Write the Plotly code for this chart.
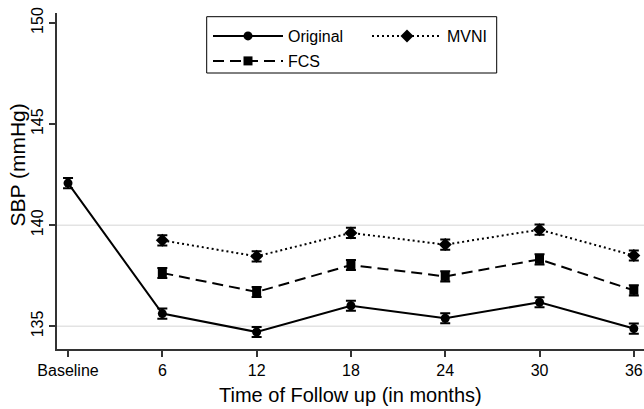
import plotly.graph_objects as go

# ---- data ----
tick_labels = ["Baseline", "6", "12", "18", "24", "30", "36"]
x_orig = [0, 1, 2, 3, 4, 5, 6]
x_imp = [1, 2, 3, 4, 5, 6]
original = [142.08, 135.63, 134.72, 136.02, 135.40, 136.19, 134.89]
original_err = [0.25, 0.25, 0.25, 0.25, 0.25, 0.25, 0.25]
fcs = [137.64, 136.70, 138.03, 137.47, 138.31, 136.78]
fcs_err = [0.25, 0.25, 0.25, 0.25, 0.25, 0.25]
mvni = [139.25, 138.46, 139.62, 139.04, 139.78, 138.50]
mvni_err = [0.25, 0.25, 0.25, 0.25, 0.25, 0.25]

FONT = "Liberation Sans, Arial, sans-serif"

# body margin is removed in the page (post_script), so figure fills the window
W, H = 644, 409
L, R, T, B = 57, 0, 13, 60
PW, PH = W - L - R, H - T - B


def fx(px):  # window pixel -> paper x
    return (px - L) / PW


def fy(py):  # window pixel -> paper y
    return (H - B - py) / PH


def eb(arr):
    return dict(type="data", array=arr, visible=True, color="black",
                thickness=2, width=5)


fig = go.Figure()
fig.add_trace(go.Scatter(
    x=x_orig, y=original, name="Original", mode="lines+markers",
    line=dict(color="black", width=2, dash="solid"),
    marker=dict(symbol="circle", size=9, color="black"),
    error_y=eb(original_err), legend="legend"))
fig.add_trace(go.Scatter(
    x=x_imp, y=mvni, name="MVNI", mode="lines+markers",
    line=dict(color="black", width=2, dash="2px,3px"),
    marker=dict(symbol="diamond", size=10, color="black"),
    error_y=eb(mvni_err), legend="legend2"))
fig.add_trace(go.Scatter(
    x=x_imp, y=fcs, name="FCS", mode="lines+markers",
    line=dict(color="black", width=2, dash="11px,6px"),
    marker=dict(symbol="square", size=9, color="black"),
    error_y=eb(fcs_err), legend="legend3"))

shapes = []
for g in [135, 140]:
    shapes.append(dict(type="line", xref="paper", yref="y", x0=0, x1=1,
                       y0=g, y1=g, line=dict(color="#e3e3e3", width=1.5),
                       layer="below"))
# legend frame
shapes.append(dict(type="rect", xref="paper", yref="paper",
                   x0=fx(206.7), x1=fx(496.7), y0=fy(73), y1=fy(16.7),
                   line=dict(color="black", width=1),
                   fillcolor="rgba(0,0,0,0)", layer="above"))

leg_common = dict(orientation="h", bgcolor="rgba(0,0,0,0)", borderwidth=0,
                  font=dict(family=FONT, size=16, color="black"),
                  itemwidth=70, xanchor="left", yanchor="top")

fig.update_layout(
    width=W, height=H,
    margin=dict(l=L, r=R, t=T, b=B, pad=0),
    paper_bgcolor="white", plot_bgcolor="white",
    font=dict(family=FONT, size=16, color="black"),
    shapes=shapes,
    showlegend=True,
    legend=dict(x=fx(208), y=fy(19), **leg_common),
    legend2=dict(x=fx(367), y=fy(19), **leg_common),
    legend3=dict(x=fx(208), y=fy(44), **leg_common),
    xaxis=dict(range=[-0.117, 6.108], tickmode="array", tickvals=x_orig,
               ticktext=tick_labels, showline=True, linecolor="#333333",
               linewidth=1.5, ticks="outside", ticklen=6, tickwidth=1.5,
               tickcolor="#333333", showgrid=False, zeroline=False,
               ticklabeloverflow="allow",
               tickfont=dict(family=FONT, size=16, color="black")),
    yaxis=dict(range=[133.88, 150.49], tickmode="array",
               tickvals=[135, 140, 145, 150], showline=True,
               linecolor="#333333", linewidth=1.5, ticks="outside",
               ticklen=6, tickwidth=1.5, tickcolor="#333333",
               showgrid=False, zeroline=False, tickangle=-90,
               ticklabeloverflow="allow",
               tickfont=dict(family=FONT, size=16, color="black")),
    annotations=[
        dict(text="Time of Follow up (in months)", xref="paper", yref="paper",
             x=0.5, y=fy(395), xanchor="center", yanchor="middle",
             showarrow=False, font=dict(family=FONT, size=20, color="black")),
        dict(text="SBP (mmHg)", xref="paper", yref="paper",
             x=fx(17.5), y=fy(165), xanchor="center",
             yanchor="middle", textangle=-90, showarrow=False,
             font=dict(family=FONT, size=21, color="black")),
    ],
)

fig.write_html(
    "out.html",
    config={"displayModeBar": False},
    post_script="document.body.style.margin='0px';"
                "document.body.style.overflow='hidden';",
)
